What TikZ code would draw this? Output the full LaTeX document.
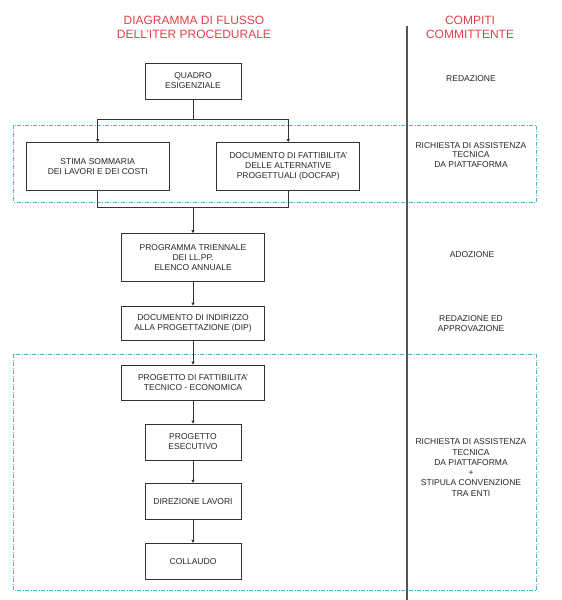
\documentclass[tikz,border=0pt]{standalone}
\usepackage{fontspec}
\setmainfont{Liberation Sans}
\usetikzlibrary{arrows.meta}
\definecolor{titlered}{HTML}{E0424A}
\definecolor{dashcyan}{HTML}{45B8CC}
\definecolor{linegray}{HTML}{333333}
\definecolor{sepgray}{HTML}{555555}
\tikzset{
  stepbox/.style={draw=linegray, line width=0.8pt, align=center, inner sep=0pt,
    font=\fontsize{8.5}{10}\selectfont, text=black!85},
  conn/.style={draw=linegray, line width=0.8pt},
  arr/.style={conn, -{Triangle[length=3pt,width=3pt]}},
  dashbox/.style={draw=dashcyan, line width=0.9pt, dash pattern=on 4pt off 1.5pt on 1pt off 1.5pt},
  titletxt/.style={align=center, text=titlered, font=\fontsize{12}{13.5}\selectfont, inner sep=0pt},
  sidetxt/.style={align=center, text=black!85, font=\fontsize{8.5}{10}\selectfont, inner sep=0pt},
  sepline/.style={draw=sepgray, line width=1.1pt}
}
\begin{document}
\begin{tikzpicture}[x=1pt,y=-1pt]
\useasboundingbox (0,0) rectangle (562,600);
% dashed groups
\draw[dashbox] (13.6,125) rectangle (536.5,202);
\draw[dashbox] (13.6,354.3) rectangle (536.5,590.7);
% separator
\coordinate (septop) at (407,26);
\coordinate (sepbot) at (407,600);
\draw[sepline] (septop) -- (sepbot);
% titles
\node[titletxt] (title) at (194,27.5) {DIAGRAMMA DI FLUSSO\\DELL'ITER PROCEDURALE};
\node[titletxt] (ctitle) at (470,27.5) {COMPITI\\COMMITTENTE};
% boxes
\node[stepbox, minimum width=96pt, minimum height=36pt] (quadro) at (193,81) {QUADRO\\ESIGENZIALE};
\node[stepbox, minimum width=143.5pt, minimum height=47.5pt] (stima) at (97.75,166.25) {STIMA SOMMARIA\\DEI LAVORI E DEI COSTI};
\node[stepbox, minimum width=143pt, minimum height=47.5pt] (docfap) at (288.25,166.25) {DOCUMENTO DI FATTIBILITA'\\DELLE ALTERNATIVE\\PROGETTUALI (DOCFAP)};
\node[stepbox, minimum width=142.5pt, minimum height=48pt] (prog) at (193,257.6) {PROGRAMMA TRIENNALE\\DEI LL.PP.\\ELENCO ANNUALE};
\node[stepbox, minimum width=142.5pt, minimum height=34pt] (dip) at (193,323) {DOCUMENTO DI INDIRIZZO\\ALLA PROGETTAZIONE (DIP)};
\node[stepbox, minimum width=142.5pt, minimum height=35pt] (pfte) at (193,382.5) {PROGETTO DI FATTIBILITA'\\TECNICO - ECONOMICA};
\node[stepbox, minimum width=96pt, minimum height=36pt] (pe) at (193,442) {PROGETTO\\ESECUTIVO};
\node[stepbox, minimum width=96pt, minimum height=36pt] (dl) at (193,501.3) {DIREZIONE LAVORI};
\node[stepbox, minimum width=96pt, minimum height=36pt] (coll) at (193,561.3) {COLLAUDO};
% connectors
\coordinate (j1) at (193,119);
\draw[conn] (quadro.south) -- (j1);
\draw[arr] (j1) -| (stima.north);
\draw[arr] (j1) -| (docfap.north);
\coordinate (j2) at (193,207);
\draw[conn] (stima.south) |- (j2);
\draw[conn] (docfap.south) |- (j2);
\draw[arr] (j2) -- (prog.north);
\draw[arr] (prog) -- (dip);
\draw[arr] (dip) -- (pfte);
\draw[arr] (pfte) -- (pe);
\draw[arr] (pe) -- (dl);
\draw[arr] (dl) -- (coll);
% side texts
\node[sidetxt] (s1) at (471,79) {REDAZIONE};
\node[sidetxt, font=\fontsize{8.5}{9.7}\selectfont] (s2) at (471,155) {RICHIESTA DI ASSISTENZA\\TECNICA\\DA PIATTAFORMA};
\node[sidetxt] (s3) at (472,254.3) {ADOZIONE};
\node[sidetxt] (s4) at (471,323.3) {REDAZIONE ED\\APPROVAZIONE};
\node[sidetxt, font=\fontsize{8.5}{10.3}\selectfont] (s5) at (471,467.5) {RICHIESTA DI ASSISTENZA\\TECNICA\\DA PIATTAFORMA\\+\\STIPULA CONVENZIONE\\TRA ENTI};
\end{tikzpicture}
\end{document}
